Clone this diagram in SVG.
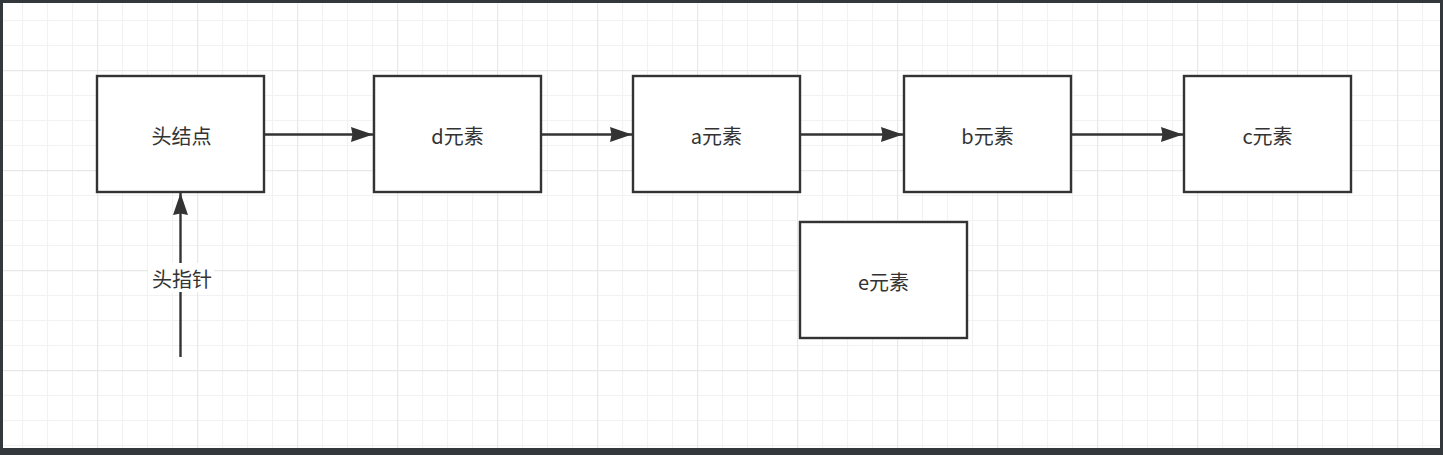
<svg xmlns="http://www.w3.org/2000/svg" width="1443" height="455" viewBox="0 0 1443 455">
  <style>
    .node rect { fill: #ffffff; stroke: #333333; stroke-width: 2.4; }
    .node text, .label { font-family: "Noto Sans CJK SC", "Liberation Sans", sans-serif; font-size: 20px; fill: #333333; text-anchor: middle; dominant-baseline: central; }
    .edge { stroke: #333333; stroke-width: 2.4; fill: none; }
  </style>
  <defs>
    <pattern id="minor" patternUnits="userSpaceOnUse" x="22" y="20" width="25" height="25">
      <path d="M0.5,0 V25 M0,0.5 H25" stroke="#f2f2f2" stroke-width="1.2" fill="none"/>
    </pattern>
    <pattern id="major" patternUnits="userSpaceOnUse" x="97" y="70" width="100" height="100">
      <path d="M0.5,0 V100 M0,0.5 H100" stroke="#e8e8e8" stroke-width="1.4" fill="none"/>
    </pattern>
    <marker id="arrow" markerUnits="userSpaceOnUse" markerWidth="24" markerHeight="18" refX="22" refY="8" orient="auto">
      <path d="M0,0.5 L22,8 L0,15.5 L1.5,8 Z" fill="#333333"/>
    </marker>
  </defs>
  <rect x="0" y="0" width="1443" height="455" fill="#33383c"/>
  <rect x="3" y="3" width="1437" height="445" fill="#ffffff"/>
  <rect x="3" y="3" width="1437" height="445" fill="url(#minor)"/>
  <rect x="3" y="3" width="1437" height="445" fill="url(#major)"/>

  <g id="connectors">
    <line class="edge" x1="265" y1="134.5" x2="373" y2="134.5" marker-end="url(#arrow)"/>
    <line class="edge" x1="541" y1="134.5" x2="632" y2="134.5" marker-end="url(#arrow)"/>
    <line class="edge" x1="800" y1="134.5" x2="903" y2="134.5" marker-end="url(#arrow)"/>
    <line class="edge" x1="1071" y1="134.5" x2="1183" y2="134.5" marker-end="url(#arrow)"/>
    <line class="edge" x1="180.5" y1="357" x2="180.5" y2="193" marker-end="url(#arrow)"/>
    <rect x="148" y="263" width="66" height="29" fill="#ffffff"/>
    <text class="label" x="182" y="278">头指针</text>
  </g>

  <g id="head" class="node">
    <rect x="97" y="76" width="167" height="116"/>
    <text x="181.5" y="135">头结点</text>
  </g>
  <g id="d" class="node">
    <rect x="374" y="76" width="167" height="116"/>
    <text x="457.5" y="135">d元素</text>
  </g>
  <g id="a" class="node">
    <rect x="633" y="76" width="167" height="116"/>
    <text x="716.5" y="135">a元素</text>
  </g>
  <g id="b" class="node">
    <rect x="904" y="76" width="167" height="116"/>
    <text x="987.5" y="135">b元素</text>
  </g>
  <g id="c" class="node">
    <rect x="1184" y="76" width="167" height="116"/>
    <text x="1267.5" y="135">c元素</text>
  </g>
  <g id="e" class="node">
    <rect x="800" y="222" width="167" height="116"/>
    <text x="883.5" y="281">e元素</text>
  </g>
</svg>
